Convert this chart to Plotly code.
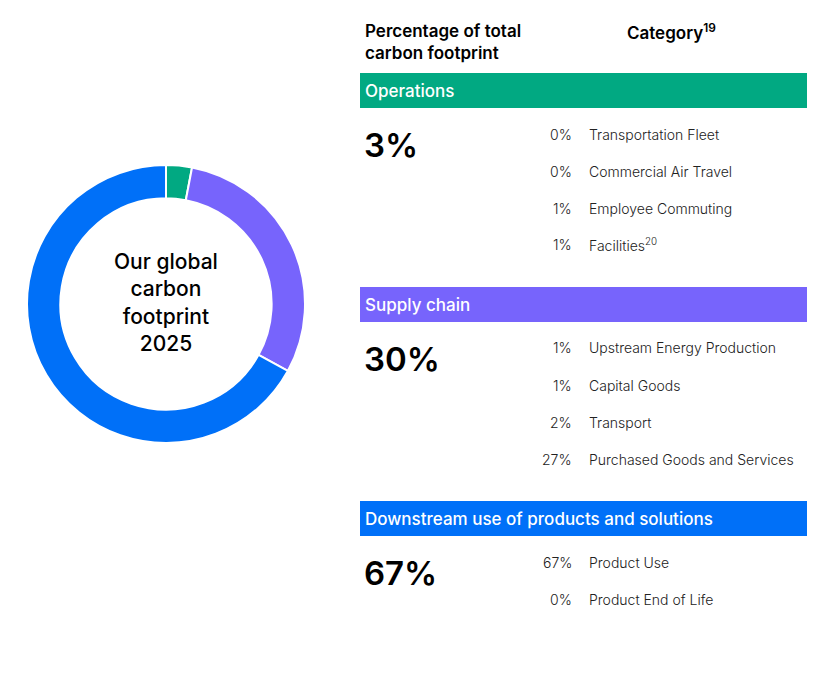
import plotly.graph_objects as go

W, H = 834, 674

# ---------- data ----------
groups = ["Operations", "Supply chain", "Downstream use of products and solutions"]
group_share = [3, 30, 67]
group_colors = ["#01A982", "#7764FC", "#0070F8"]

ops_labels = ["Transportation Fleet", "Commercial Air Travel", "Employee Commuting", "Facilities<sup>20</sup>"]
ops_values = [0, 0, 1, 1]
supply_labels = ["Upstream Energy Production", "Capital Goods", "Transport", "Purchased Goods and Services"]
supply_values = [1, 1, 2, 27]
down_labels = ["Product Use", "Product End of Life"]
down_values = [67, 0]

sub_labels = [ops_labels, supply_labels, down_labels]
sub_values = [ops_values, supply_values, down_values]

FONT = "Inter"


def px(x):
    return x / W


def py(y):
    return 1 - y / H


def note(x, y, text, size, color="#000", weight=400, xanchor="left", align="left"):
    # paper-anchored text placed by pixel position (middle of the line)
    if xanchor == "left":
        x -= 2  # annotation box padding
    elif xanchor == "right":
        x += 2
    return dict(
        x=px(x), y=py(y), xref="paper", yref="paper",
        xanchor=xanchor, yanchor="middle", align=align,
        text=text, showarrow=False,
        font=dict(family=FONT, size=size, color=color, weight=weight),
    )


fig = go.Figure()

# ---------- donut ----------
fig.add_trace(go.Pie(
    labels=groups,
    values=group_share,
    hole=0.76,
    sort=False,
    direction="clockwise",
    rotation=0,
    marker=dict(colors=group_colors, line=dict(color="white", width=2)),
    textinfo="none",
    hoverinfo="label+percent",
    showlegend=False,
    domain=dict(x=[px(27), px(305)], y=[py(443), py(165)]),
))

annotations = []
shapes = []

annotations.append(note(166, 302, "Our global<br>carbon<br>footprint<br>2025", 21,
                        weight=500, xanchor="center", align="center"))

# ---------- headers ----------
annotations.append(note(365, 42, "Percentage of total<br>carbon footprint", 17, weight=600))
annotations.append(note(671, 32, "Category<sup>19</sup>", 17, weight=600, xanchor="center"))

# ---------- sections ----------
bar_tops = [73, 287, 501]
row_gap = 37
for name, share, color, labs, vals, top in zip(groups, group_share, group_colors,
                                                sub_labels, sub_values, bar_tops):
    shapes.append(dict(
        type="rect", xref="paper", yref="paper",
        x0=px(360), x1=px(807), y0=py(top + 35), y1=py(top),
        fillcolor=color, line=dict(width=0), layer="below",
    ))
    annotations.append(note(365, top + 17.5, name, 17, color="white", weight=500))
    annotations.append(note(364, top + 72, f"{share}%", 33, weight=600))
    for i, (lab, v) in enumerate(zip(labs, vals)):
        yy = top + 61 + i * row_gap
        annotations.append(note(572, yy, f"{v}%", 14, color="#222", weight=300, xanchor="right"))
        annotations.append(note(589, yy, lab, 14, color="#222", weight=300))

fig.update_layout(
    width=W, height=H,
    margin=dict(l=0, r=0, t=0, b=0),
    paper_bgcolor="white", plot_bgcolor="white",
    annotations=annotations, shapes=shapes,
    font=dict(family=FONT),
)

fig.write_html("out.html", config={"displayModeBar": False},
               post_script="document.body.style.margin='0';")
